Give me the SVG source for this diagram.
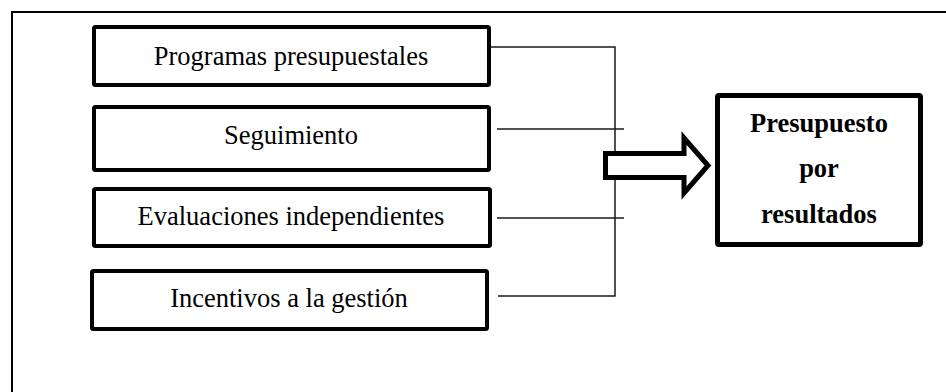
<svg xmlns="http://www.w3.org/2000/svg" width="946" height="392" viewBox="0 0 946 392">
<style>
.box{fill:#fff;stroke:#000;stroke-width:4;}
.lbl{font-family:"Liberation Serif","Times New Roman",serif;font-size:26.5px;fill:#000;text-anchor:middle;}
.bold{font-weight:bold;}
.conn{fill:none;stroke:#1a1a1a;stroke-width:1.5;}
</style>
<rect x="0" y="0" width="946" height="392" fill="#fff"/>
<path d="M12,400 V12 H960" fill="none" stroke="#000" stroke-width="2"/>
<g id="connectors">
<path class="conn" d="M491,47 H615 V296 H498"/>
<path class="conn" d="M497,129 H624"/>
<path class="conn" d="M497,218 H624"/>
</g>
<g id="arrow">
<polygon points="605.5,153.5 684,153.5 684,138 708,165.5 684,193 684,177.5 605.5,177.5" fill="#fff" stroke="#000" stroke-width="5" stroke-linejoin="miter"/>
</g>
<g id="n1">
<rect class="box" x="94" y="27" width="395" height="58" rx="1.5"/>
<text class="lbl" x="291" y="65">Programas presupuestales</text>
</g>
<g id="n2">
<rect class="box" x="94" y="107" width="395" height="63" rx="1.5"/>
<text class="lbl" x="291" y="144">Seguimiento</text>
</g>
<g id="n3">
<rect class="box" x="94" y="189" width="396" height="57" rx="1.5"/>
<text class="lbl" x="291" y="225">Evaluaciones independientes</text>
</g>
<g id="n4">
<rect class="box" x="92" y="271" width="395" height="58" rx="1.5"/>
<text class="lbl" x="289" y="307">Incentivos a la gestión</text>
</g>
<g id="result">
<rect class="box" x="717.5" y="95.5" width="203" height="149" rx="1.5" style="stroke-width:5"/>
<text class="lbl bold" x="819" y="132">Presupuesto</text>
<text class="lbl bold" x="819" y="177">por</text>
<text class="lbl bold" x="819" y="223">resultados</text>
</g>
</svg>
